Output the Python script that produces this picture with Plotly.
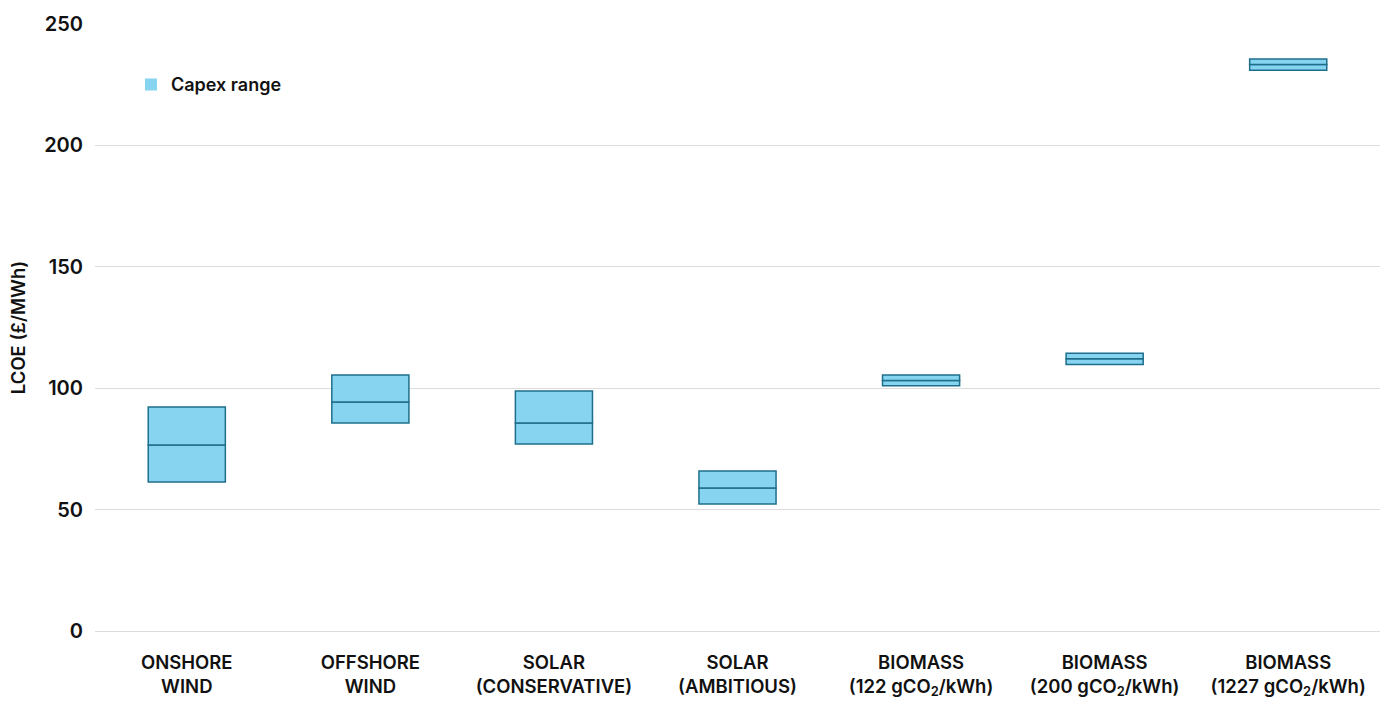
import plotly.graph_objects as go

categories = [
    "ONSHORE<br>WIND",
    "OFFSHORE<br>WIND",
    "SOLAR<br>(CONSERVATIVE)",
    "SOLAR<br>(AMBITIOUS)",
    "BIOMASS<br>(122 gCO<sub>2</sub>/kWh)",
    "BIOMASS<br>(200 gCO<sub>2</sub>/kWh)",
    "BIOMASS<br>(1227 gCO<sub>2</sub>/kWh)",
]
low = [61.4, 85.7, 77.0, 52.3, 101.0, 109.8, 231.0]
mid = [76.6, 94.3, 85.7, 58.9, 103.2, 112.1, 233.3]
high = [92.3, 105.4, 98.8, 65.9, 105.4, 114.4, 235.6]
y_ticks = [0, 50, 100, 150, 200, 250]

FILL = "#86d4f0"
EDGE = "#1f6f8c"
FONT = "Inter, Roboto, sans-serif"

fig = go.Figure()
fig.add_trace(go.Bar(
    x=categories, base=low, y=[m - l for m, l in zip(mid, low)],
    width=0.42, marker=dict(color=FILL, line=dict(color=EDGE, width=1.5)),
    showlegend=False, hoverinfo="skip",
))
fig.add_trace(go.Bar(
    x=categories, base=mid, y=[h - m for h, m in zip(high, mid)],
    width=0.42, marker=dict(color=FILL, line=dict(color=EDGE, width=1.5)),
    showlegend=False, hoverinfo="skip",
))
fig.add_trace(go.Bar(
    x=[categories[0]], y=[None], name="Capex range",
    marker=dict(color=FILL, line=dict(width=0)), showlegend=True,
))

fig.update_layout(
    barmode="overlay",
    width=1395, height=701,
    margin=dict(l=95, r=15, t=24, b=70),
    paper_bgcolor="white", plot_bgcolor="white",
    font=dict(family=FONT, size=18, color="#111111", weight=600),
    legend=dict(x=0.028, y=0.9, xanchor="left", yanchor="middle",
                font=dict(size=18, weight=600), bgcolor="rgba(0,0,0,0)",
                itemsizing="constant"),
    xaxis=dict(showgrid=False, showline=False, ticks="", automargin=False,
               tickfont=dict(size=18.5, weight=600), ticklabelstandoff=18),
    yaxis=dict(range=[0, 250], tickvals=y_ticks, automargin=False,
               showgrid=True, gridcolor="#dcdcdc", gridwidth=1,
               zeroline=True, zerolinecolor="#dcdcdc", zerolinewidth=1,
               showline=False, ticks="", ticklabelstandoff=11,
               tickfont=dict(size=20, weight=600),
               title=dict(text="LCOE (£/MWh)", font=dict(size=18.5, weight=600), standoff=13)),
)

fig.write_html("out.html")
